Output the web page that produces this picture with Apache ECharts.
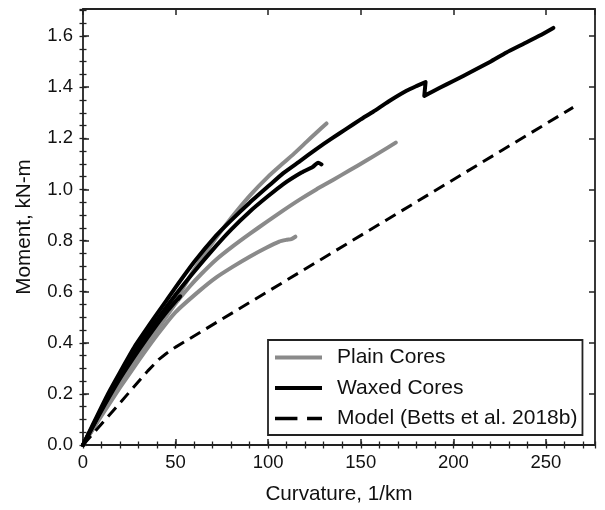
<!DOCTYPE html>
<html>
<head>
<meta charset="utf-8">
<script src="https://cdn.jsdelivr.net/npm/echarts@6/dist/echarts.min.js"></script>
<style>html,body{margin:0;padding:0;background:#fff}#c{width:605px;height:510px}</style>
</head>
<body>
<div id="c"></div>
<script>
// ---- data ----
const xTicks = [0, 50, 100, 150, 200, 250];
const yTicks = [0.0, 0.2, 0.4, 0.6, 0.8, 1.0, 1.2, 1.4, 1.6];
const seriesNames = ['Plain Cores', 'Waxed Cores', 'Model (Betts et al. 2018b)'];

const plain1 = [[0,0],[5,0.06],[10,0.12],[20,0.24],[30,0.35],[40,0.46],[50,0.567],[60,0.686],[70,0.792],[80,0.888],[90,0.975],[100,1.05],[108,1.102],[115,1.147],[120.7,1.186],[126,1.222],[131.5,1.258]];
const plain2 = [[0,0],[5,0.06],[10,0.12],[20,0.235],[30,0.345],[40,0.45],[50,0.553],[57.6,0.62],[64,0.67],[72,0.726],[81,0.778],[90,0.826],[99,0.872],[108,0.917],[117,0.96],[126,1.0],[135,1.037],[144,1.075],[153,1.113],[161,1.148],[168.9,1.183]];
const plain3 = [[0,0],[5,0.058],[10,0.115],[20,0.225],[30,0.33],[40,0.43],[50,0.52],[63,0.604],[72,0.656],[81,0.698],[90,0.737],[99,0.772],[106,0.796],[110,0.803],[112.5,0.806],[114.7,0.815]];
const waxed1 = [[0,0],[5,0.075],[13.5,0.2],[20,0.285],[27.9,0.385],[38.7,0.5],[45,0.565],[49.5,0.612],[60,0.716],[72,0.82],[80,0.879],[90,0.948],[100,1.012],[108,1.063],[117,1.11],[126,1.158],[134,1.198],[142,1.236],[150,1.274],[156.7,1.304],[165,1.344],[174.7,1.386],[180,1.404],[185,1.42],[184.3,1.366],[192.7,1.398],[200,1.424],[210.7,1.464],[220,1.5],[228.7,1.536],[238,1.57],[246.7,1.602],[254,1.632]];
const waxed2 = [[0,0],[5,0.07],[10,0.14],[20,0.27],[30,0.385],[40,0.49],[50,0.588],[60,0.678],[72,0.78],[80,0.843],[90,0.913],[100,0.974],[108,1.02],[118,1.066],[124,1.088],[127,1.104],[128.8,1.098]];
const waxed3 = [[0,0],[5,0.068],[10,0.135],[20,0.26],[30,0.37],[40,0.472],[46,0.528],[50,0.562],[52.5,0.582],[51.5,0.572]];
const model = [[0,0],[20,0.165],[35,0.29],[41,0.335],[45,0.358],[50,0.383],[264.7,1.321]];

const FONT = 'Liberation Sans, Arial, Helvetica, sans-serif';
const GRAY = '#8a8a8a';
const BLACK = '#000000';
const AX = '#222222';
const X_MAX = 276.5, Y_MAX = 1.706;

function majorAxis(pos, max, interval, labels, extra) {
  return Object.assign({
    type: 'value', position: pos, min: 0, max: max, interval: interval,
    axisLine: {show: true, onZero: false, lineStyle: {color: AX, width: 1.8}},
    axisTick: {show: true, inside: true, length: 6, lineStyle: {color: AX, width: 1.5}},
    axisLabel: {show: labels, showMaxLabel: false, color: '#111', fontFamily: FONT, fontSize: 18.5},
    splitLine: {show: false}
  }, extra || {});
}
function minorAxis(pos, max, interval) {
  return {
    type: 'value', position: pos, min: 0, max: max, interval: interval,
    axisLine: {show: false},
    axisTick: {show: true, inside: true, length: 3.5, lineStyle: {color: AX, width: 1.3}},
    axisLabel: {show: false},
    splitLine: {show: false}
  };
}

const chart = echarts.init(document.getElementById('c'), null, {renderer: 'canvas'});

function lineSeries(name, data, color, width, dash, z, smooth) {
  return {
    name: name, type: 'line', data: data, xAxisIndex: 0, yAxisIndex: 0,
    symbol: 'none', showSymbol: false, smooth: smooth, z: z,
    lineStyle: {color: color, width: width, type: dash || 'solid', cap: dash ? 'butt' : 'round', join: 'round'},
    itemStyle: {color: color},
    emphasis: {disabled: true}, animation: false
  };
}

chart.setOption({
  animation: false,
  backgroundColor: '#ffffff',
  grid: {left: 83, right: 10, top: 9, bottom: 65, containLabel: false, outerBoundsMode: 'none'},
  xAxis: [
    majorAxis('bottom', X_MAX, 50, true, {
      name: 'Curvature, 1/km', nameLocation: 'middle', nameGap: 39,
      nameTextStyle: {color: '#111', fontFamily: FONT, fontSize: 20.7},
      axisLabel: {show: true, showMaxLabel: false, color: '#111', fontFamily: FONT, fontSize: 18.5, margin: 8}
    }),
    minorAxis('bottom', X_MAX, 10),
    majorAxis('top', X_MAX, 50, false),
    minorAxis('top', X_MAX, 10)
  ],
  yAxis: [
    majorAxis('left', Y_MAX, 0.2, true, {
      name: 'Moment, kN-m', nameLocation: 'middle', nameGap: 48, nameRotate: 90,
      nameTextStyle: {color: '#111', fontFamily: FONT, fontSize: 20.7},
      axisLabel: {show: true, showMaxLabel: false, color: '#111', fontFamily: FONT, fontSize: 18.5, margin: 10,
        formatter: v => v.toFixed(1)}
    }),
    minorAxis('left', Y_MAX, 0.05),
    majorAxis('right', Y_MAX, 0.2, false),
    minorAxis('right', Y_MAX, 0.05)
  ],
  legend: [{
    show: true, type: 'plain',
    orient: 'vertical', align: 'left',
    left: 268, top: 340, right: null, bottom: null,
    backgroundColor: '#fff', borderColor: AX, borderWidth: 1.8, borderRadius: 0,
    padding: [7, 5, 6, 7], itemGap: 9.5, itemWidth: 47, itemHeight: 4,
    itemStyle: {borderWidth: 0},
    textStyle: {color: '#111', fontFamily: FONT, fontSize: 21, padding: [0, 0, 0, 10]},
    selectedMode: false,
    data: [
      {name: seriesNames[0], icon: 'rect'},
      {name: seriesNames[1], icon: 'rect'},
      {name: seriesNames[2], icon: 'path://M0,0h21v3.5h-21z M30,0h14v3.5h-14z'}
    ]
  }],
  series: [
    lineSeries(seriesNames[0], plain1, GRAY, 4, null, 2, 0.2),
    lineSeries(seriesNames[0], plain2, GRAY, 4, null, 2, 0.2),
    lineSeries(seriesNames[0], plain3, GRAY, 4, null, 2, 0.2),
    lineSeries(seriesNames[1], waxed1, BLACK, 4, null, 3, 0.15),
    lineSeries(seriesNames[1], waxed2, BLACK, 4, null, 3, 0.2),
    lineSeries(seriesNames[1], waxed3, BLACK, 4, null, 3, 0.2),
    lineSeries(seriesNames[2], model, BLACK, 3, [12, 7], 4, false)
  ]
});
</script>
</body>
</html>
